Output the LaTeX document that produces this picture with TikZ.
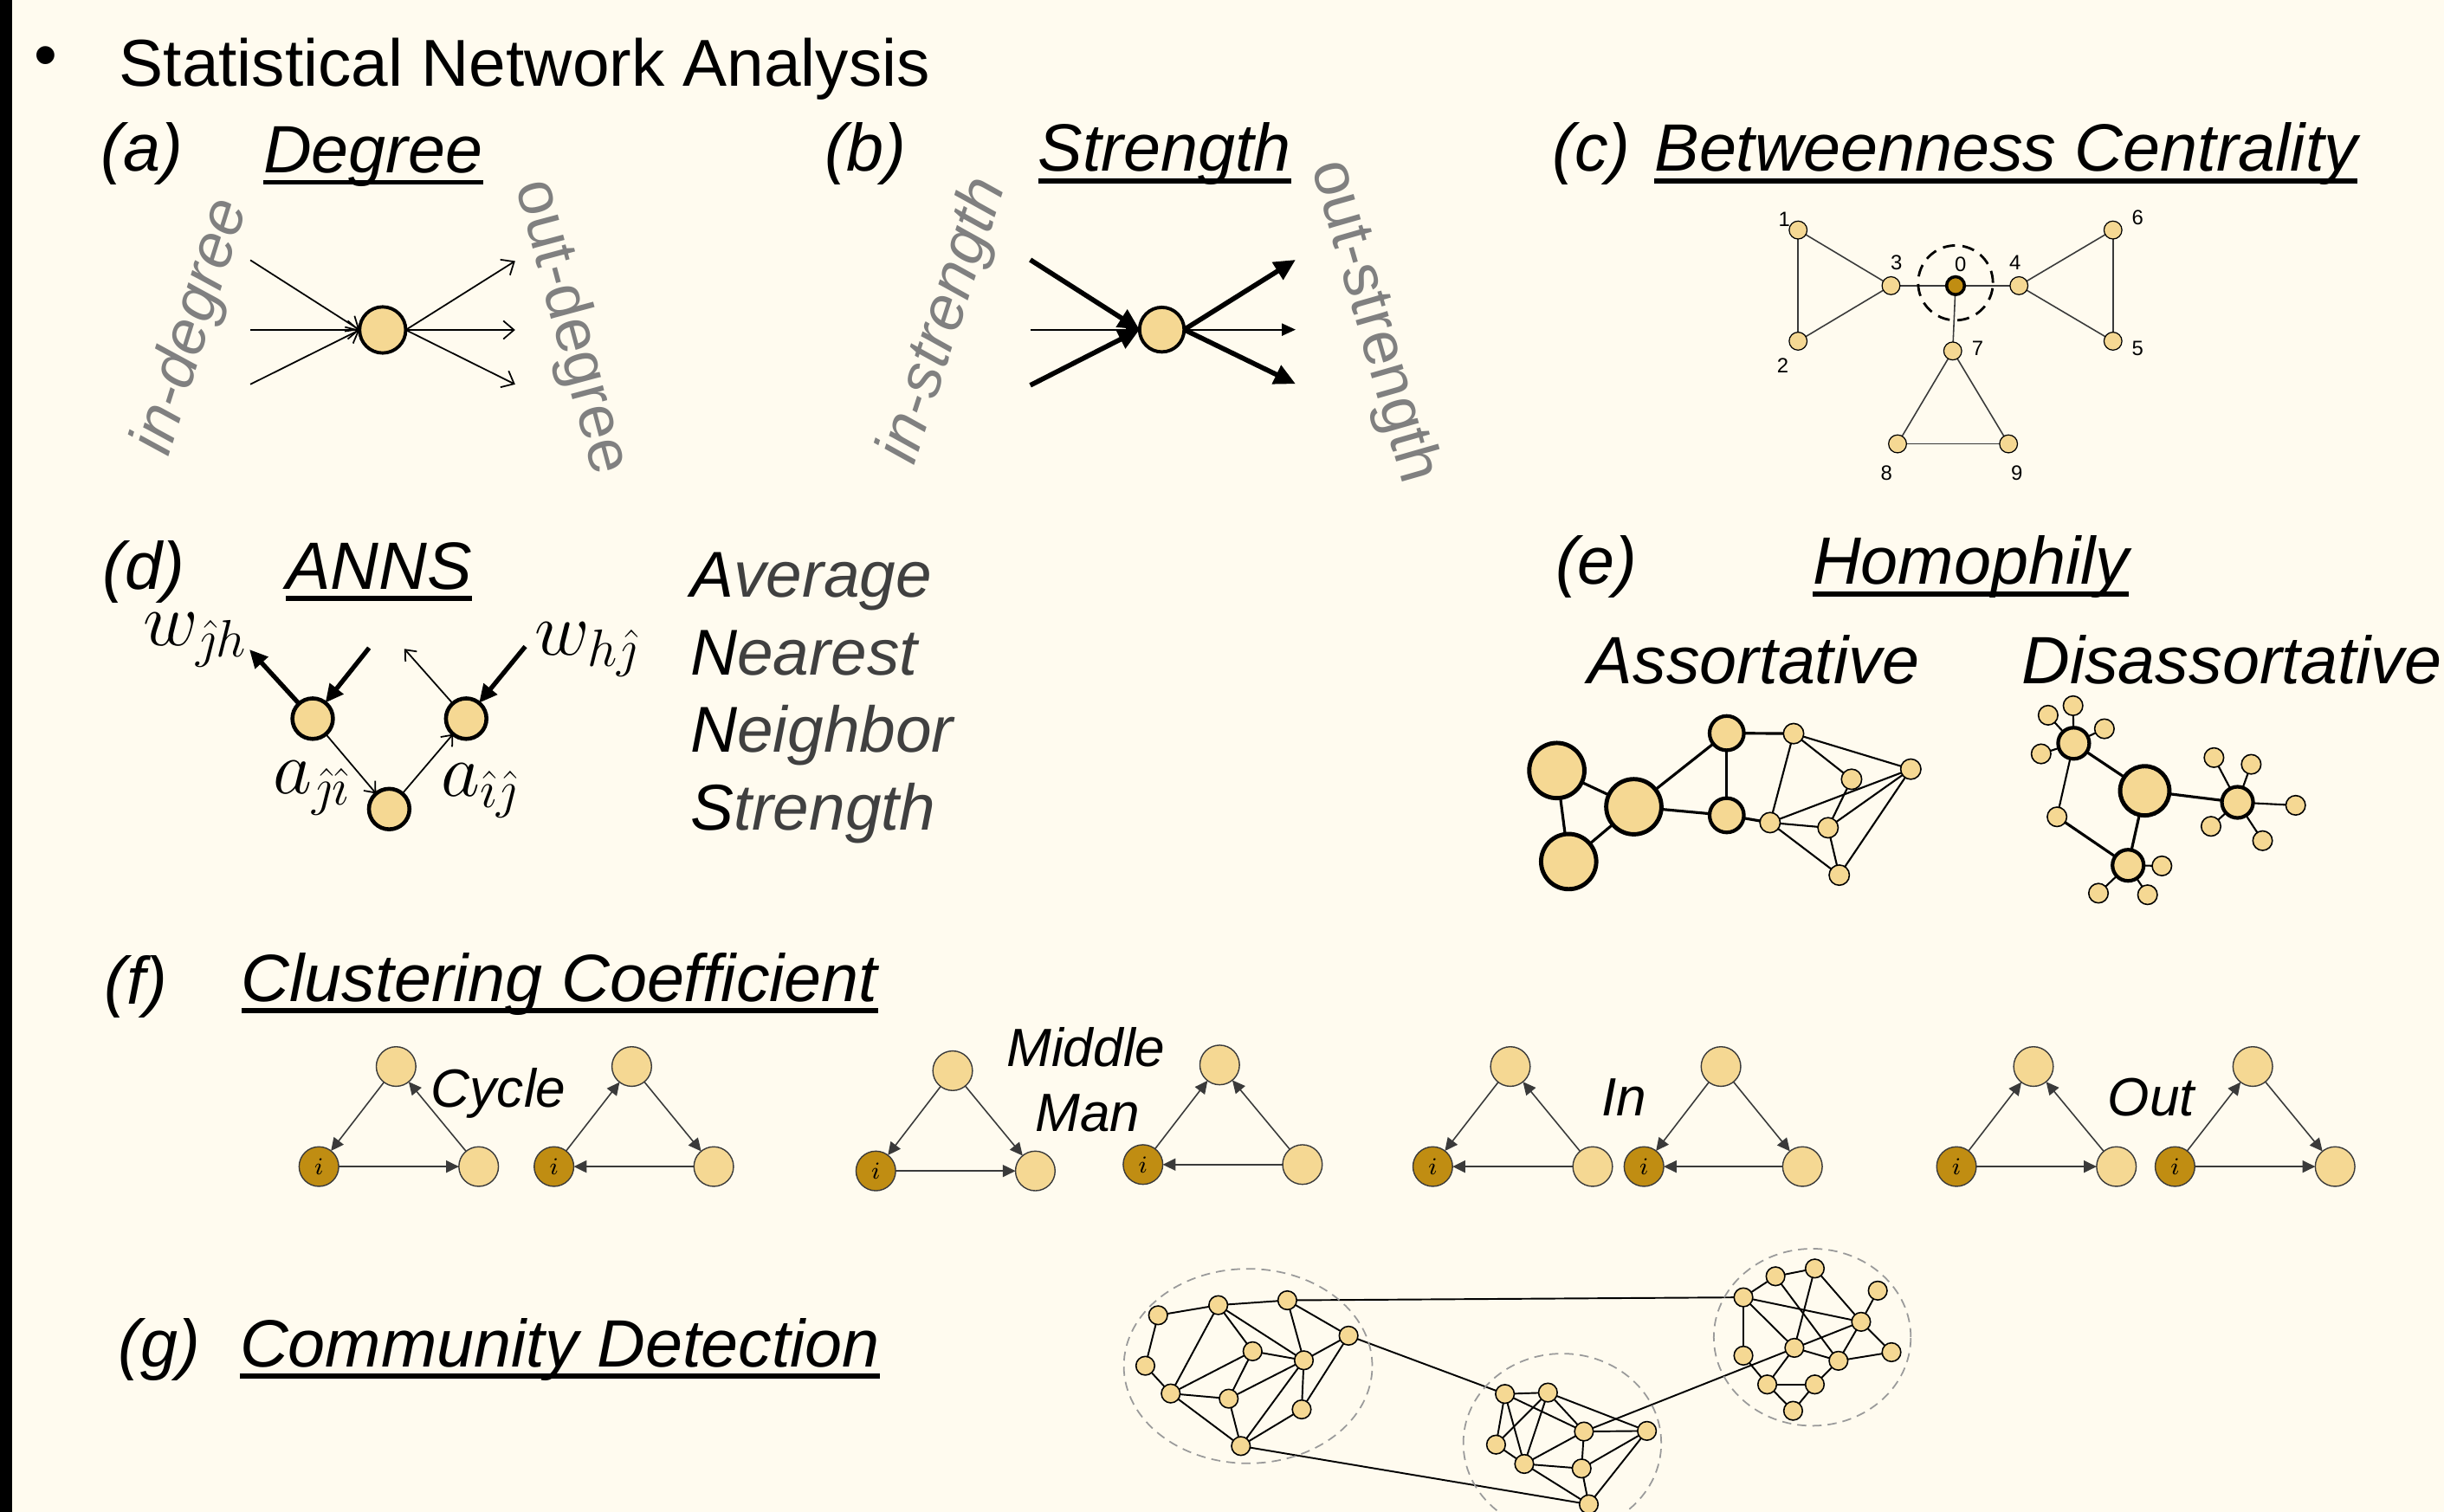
\documentclass[tikz,border=0pt]{standalone}
\usepackage{fontspec}
\setmainfont{Liberation Sans}
\usetikzlibrary{arrows.meta,calc,shapes.geometric}
\definecolor{bgcream}{HTML}{FFFBEF}
\definecolor{nodeY}{HTML}{F5D893}
\definecolor{nodeD}{HTML}{C08D12}
\definecolor{labgray}{HTML}{808080}
\definecolor{txtgray}{HTML}{404040}
\definecolor{edgegray}{HTML}{3A3A3A}
\definecolor{ringgray}{HTML}{9A9A9A}
\pgfdeclarelayer{back}
\pgfdeclarelayer{edges}
\pgfsetlayers{back,edges,main}
\tikzset{
  every node/.style={inner sep=0pt, outer sep=0pt},
  heading/.style={font=\fontsize{22}{26}\selectfont\itshape, anchor=base west},
  sublabel/.style={font=\fontsize{17.7}{21}\selectfont\itshape, anchor=base west},
  annsword/.style={font=\fontsize{21.3}{25}\selectfont\itshape, anchor=base west, text=txtgray},
  rotlabel/.style={font=\fontsize{20.5}{24}\selectfont, text=labgray},
  rotlabelit/.style={font=\fontsize{20.5}{24}\selectfont\itshape, text=labgray},
  mathlabel/.style={font=\fontsize{23}{27}\selectfont, anchor=base west},
  numlabel/.style={font=\fontsize{6.8}{8}\selectfont},
  nd/.style={circle, fill=nodeY, draw=black, line width=0.4pt, minimum size=#1*0.018cm},
  ndark/.style={nd=#1, fill=nodeD},
  rim/.style={line width=#1},
  uline/.style={line width=1.6pt},
  barbarrow/.style={line width=0.5pt, -{Straight Barb[length=3.5pt,width=6pt]}},
  heavyarrow/.style={line width=1.6pt, -{Triangle[length=7pt,width=6.5pt]}},
  lightarrow/.style={line width=0.5pt, -{Triangle[length=4.5pt,width=4pt]}},
  annsheavy/.style={line width=1.5pt, -{Triangle[length=6pt,width=5.5pt]}},
  annslight/.style={line width=0.5pt, -{Straight Barb[length=3pt,width=5pt]}},
  triedge/.style={draw=edgegray, line width=0.45pt, -{Triangle[length=4.2pt,width=4pt]}},
  plainedge/.style={draw=edgegray, line width=0.45pt},
  homedge/.style={line width=0.9pt},
  homedgethin/.style={line width=0.6pt},
  commedge/.style={line width=0.55pt},
  commring/.style={ellipse, draw=ringgray, dashed, dash pattern=on 3pt off 2pt, line width=0.5pt},
}
\newcommand\drawunderline[1]{\draw[uline] ($(#1.base west)+(0,6)$) -- ($(#1.base east)+(0,6)$);}
\begin{document}
\begin{tikzpicture}[x=0.018cm, y=-0.018cm]
\useasboundingbox (0,0) rectangle (1568,970);
\clip (0,0) rectangle (1568,970);
\begin{pgfonlayer}{back}
  \fill[bgcream] (0,0) rectangle (1568,970);
  \fill[black] (0,0) rectangle (8,970);
\end{pgfonlayer}

% ---------- title ----------
\node[font=\fontsize{21.8}{26}\selectfont] (bullet) at (29.2,40) {•};
\node[font=\fontsize{21.8}{26}\selectfont, anchor=base west] (title) at (76.5,55.5) {Statistical Network Analysis};

% ---------- headings ----------
\node[heading] (alab) at (65,110) {(a)};
\node[heading] (ahead) at (169,111) {Degree};
\drawunderline{ahead}
\node[heading] (blab) at (529,109.5) {(b)};
\node[heading] (bhead) at (666,110) {Strength};
\drawunderline{bhead}
\node[heading] (clab) at (996,109.5) {(c)};
\node[heading] (chead) at (1061.5,110) {Betweenness Centrality};
\drawunderline{chead}
\node[heading] (dlab) at (66,378) {(d)};
\node[heading] (dhead) at (183.5,378) {ANNS};
\drawunderline{dhead}
\node[heading] (elab) at (998,375) {(e)};
\node[heading] (ehead) at (1163,375) {Homophily};
\drawunderline{ehead}
\node[heading] (assort) at (1019,438.5) {Assortative};
\node[heading] (disassort) at (1297,438.5) {Disassortative};
\node[heading] (flab) at (67,644) {(f)};
\node[heading] (fhead) at (155,642.5) {Clustering Coefficient};
\drawunderline{fhead}
\node[heading] (glab) at (76,877) {(g)};
\node[heading] (ghead) at (154,877) {Community Detection};
\drawunderline{ghead}

% ---------- (a) degree ----------
\node[nd=29.6, rim=1.1pt] (an) at (245.5,211.7) {};
\coordinate (ai1) at (160.6,166.9);
\coordinate (ai2) at (160.6,211.7);
\coordinate (ai3) at (160.6,246.6);
\coordinate (ao1) at (330.5,167.5);
\coordinate (ao2) at (330.5,211.7);
\coordinate (ao3) at (330.5,246.6);
\begin{pgfonlayer}{edges}
  \foreach \s in {ai1,ai2,ai3} \draw[barbarrow] (\s) -- (an.west);
  \foreach \t in {ao1,ao2,ao3} \draw[barbarrow] (an.east) -- (\t);
\end{pgfonlayer}
\node[rotlabelit, rotate=72.5] (indeg) at (123.5,210) {in-degree};
\node[rotlabel, rotate=-75] (outdeg) at (366,210) {out-degree};

% ---------- (b) strength ----------
\node[nd=28.6, rim=1.1pt] (bn) at (745.4,211.5) {};
\coordinate (bi1) at (661,166.7);
\coordinate (bi2) at (661,211.5);
\coordinate (bi3) at (661,247.2);
\coordinate (bo1) at (831.2,166.7);
\coordinate (bo2) at (831.2,211.5);
\coordinate (bo3) at (831.2,246.3);
\begin{pgfonlayer}{edges}
  \draw[heavyarrow] (bi1) -- (bn.west);
  \draw[lightarrow] (bi2) -- (bn.west);
  \draw[heavyarrow] (bi3) -- (bn.west);
  \draw[heavyarrow] (bn.east) -- (bo1);
  \draw[lightarrow] (bn.east) -- (bo2);
  \draw[heavyarrow] (bn.east) -- (bo3);
\end{pgfonlayer}
\node[rotlabelit, rotate=72] (instr) at (606,206) {in-strength};
\node[rotlabel, rotate=-74] (outstr) at (880.8,206.5) {out-strength};

% ---------- (c) betweenness ----------
\node[circle, draw=black, dashed, dash pattern=on 4pt off 2.5pt, line width=0.8pt, minimum size=48*0.018cm] (bring) at (1254.6,181.5) {};
\foreach \n/\x/\y in {bc1/1153.6/147.6, bc2/1153.6/218.9, bc3/1213.2/183.3, bc4/1295.3/183.3,
                      bc5/1355.6/218.9, bc6/1355.6/147.6, bc7/1252.8/225.2, bc8/1217.4/284.8, bc9/1288.6/284.8}
  \node[nd=11.5, rim=0.35pt] (\n) at (\x,\y) {};
\node[ndark=11.5, rim=1pt] (bc0) at (1254.6,183.3) {};
\begin{pgfonlayer}{edges}
  \foreach \a/\b in {bc1/bc2, bc1/bc3, bc2/bc3, bc3/bc0, bc0/bc4, bc4/bc6, bc4/bc5, bc6/bc5, bc0/bc7, bc7/bc8, bc7/bc9, bc8/bc9}
    \draw[plainedge] (\a) -- (\b);
\end{pgfonlayer}
\foreach \n/\t/\x/\y in {lb1/1/1144.8/140.7, lb2/2/1143.7/234.8, lb3/3/1216.7/168.5, lb0/0/1257.8/169.4,
                         lb4/4/1292.8/168.5, lb6/6/1371.5/139.8, lb5/5/1371.5/223.7, lb7/7/1268.8/223.7,
                         lb8/8/1210.3/303.7, lb9/9/1293.9/303.7}
  \node[numlabel] (\n) at (\x,\y) {\t};

% ---------- (d) ANNS ----------
\node[nd=26, rim=1.3pt] (dL) at (200.6,461.1) {};
\node[nd=26, rim=1.3pt] (dR) at (299.1,461.1) {};
\node[nd=26, rim=1.3pt] (dB) at (249.7,519.1) {};
\coordinate (dwL) at (160,416.7);
\coordinate (dinL) at (236.8,415.7);
\coordinate (doR) at (259.4,416.3);
\coordinate (dinR) at (337,414.8);
\begin{pgfonlayer}{edges}
  \draw[annsheavy] (dL) -- (dwL);
  \draw[annsheavy] (dinL) -- (dL);
  \draw[annslight] (dR) -- (doR);
  \draw[annsheavy] (dinR) -- (dR);
  \draw[annslight] (dL) -- (dB);
  \draw[annslight] (dB) -- (dR);
\end{pgfonlayer}
\node[mathlabel] (wjh) at (92,414) {$w_{\hat{\jmath}h}$};
\node[mathlabel] (whj) at (343,420.4) {$w_{h\hat{\jmath}}$};
\node[mathlabel] (aji) at (175.5,509.3) {$a_{\hat{\jmath}\hat{\imath}}$};
\node[mathlabel] (aij) at (283,511) {$a_{\hat{\imath}\hat{\jmath}}$};
\node[annsword] (wavg) at (443,383.3) {\textcolor{black}{A}verage};
\node[annsword] (wnear) at (443,433.3) {\textcolor{black}{N}earest};
\node[annsword] (wneigh) at (443,482.4) {\textcolor{black}{N}eighbor};
\node[annsword] (wstr) at (443,532.4) {\textcolor{black}{S}trength};

% ---------- (e) homophily: assortative ----------
\foreach \n/\x/\y in {hA1/998.8/494.4, hA2/1048.2/517.6, hA3/1006.4/552.8}
  \node[nd=35.4, rim=1.4pt] (\n) at (\x,\y) {};
\foreach \n/\x/\y in {hM1/1107.8/470.4, hM2/1107.8/523.1}
  \node[nd=22, rim=1.2pt] (\n) at (\x,\y) {};
\foreach \n/\x/\y in {hS1/1150.7/470.7, hS2/1187.9/500, hS3/1225.9/493.5, hS4/1135.6/527.8, hS5/1172.8/531.1, hS6/1180/561.5}
  \node[nd=13, rim=0.45pt] (\n) at (\x,\y) {};
\begin{pgfonlayer}{edges}
  \foreach \a/\b in {hA1/hA2, hA1/hA3, hA3/hA2, hA2/hM1, hA2/hM2, hM1/hM2, hM1/hS1, hM2/hS4}
    \draw[homedge] (\a) -- (\b);
  \foreach \a/\b in {hS1/hS3, hS1/hS2, hS1/hS4, hS4/hS3, hS4/hS5, hS4/hS6, hS2/hS5, hS5/hS3, hS5/hS6, hS6/hS3}
    \draw[homedgethin] (\a) -- (\b);
\end{pgfonlayer}

% ---------- (e) homophily: disassortative ----------
\node[nd=31.6, rim=1.4pt] (hD2) at (1376,507.4) {};
\foreach \n/\x/\y in {hD1/1330.4/476.9, hD3/1435.5/514.8, hD4/1365.3/555.2}
  \node[nd=20, rim=1.2pt] (\n) at (\x,\y) {};
\foreach \n/\x/\y in {hL11/1314/458.9, hL12/1330/452.8, hL13/1350.1/467.6, hL14/1309.5/483.7, hL15/1319.7/524.1,
                      hL31/1420.4/486.1, hL32/1444.3/490.4, hL33/1472.8/516.7, hL34/1451.6/539.4, hL35/1418.5/530.2,
                      hL41/1387/555.6, hL42/1377.8/574.1, hL43/1346.3/573.1}
  \node[nd=12.5, rim=0.45pt] (\n) at (\x,\y) {};
\begin{pgfonlayer}{edges}
  \foreach \a/\b in {hD1/hD2, hD2/hD3, hD2/hD4, hL15/hD4}
    \draw[homedge] (\a) -- (\b);
  \foreach \a/\b in {hD1/hL11, hD1/hL12, hD1/hL13, hD1/hL14, hD1/hL15,
                     hD3/hL31, hD3/hL32, hD3/hL33, hD3/hL34, hD3/hL35,
                     hD4/hL41, hD4/hL42, hD4/hL43}
    \draw[homedgethin] (\a) -- (\b);
\end{pgfonlayer}

% ---------- (f) clustering coefficient triads ----------
\foreach \k/\tx/\ty/\ix/\iy/\rx/\ry in {
    1/254.1/684.3/204.6/748.5/307.1/748.5,
    2/405.3/684.3/355.4/748.5/457.9/748.5,
    3/611.2/687/561.9/751.3/664.2/751.3,
    4/782.5/683.3/733.3/747.2/835.6/747.2,
    5/969/684.3/919.2/748.5/1021.8/748.5,
    6/1104.1/684.3/1054.7/748.5/1156.4/748.5,
    7/1304.6/684.3/1255.2/748.5/1357.8/748.5,
    8/1445.3/684.3/1395.4/748.5/1498.1/748.5}
{
  \node[nd=25.4, draw=edgegray] (ft\k) at (\tx,\ty) {};
  \node[ndark=25.4, draw=edgegray, font=\fontsize{8.5}{9}\selectfont] (fi\k) at (\ix,\iy) {$i$};
  \node[nd=25.4, draw=edgegray] (fr\k) at (\rx,\ry) {};
}
\begin{pgfonlayer}{edges}
  \foreach \a/\b in {ft1/fi1, fi1/fr1, fr1/ft1,
                     fi2/ft2, ft2/fr2, fr2/fi2,
                     ft3/fi3, ft3/fr3, fi3/fr3,
                     fi4/ft4, fr4/ft4, fr4/fi4,
                     ft5/fi5, fr5/ft5, fr5/fi5,
                     ft6/fi6, ft6/fr6, fr6/fi6,
                     fi7/ft7, fr7/ft7, fi7/fr7,
                     fi8/ft8, ft8/fr8, fi8/fr8}
    \draw[triedge] (\a) -- (\b);
\end{pgfonlayer}
\node[sublabel] (cyc) at (276.7,710.2) {Cycle};
\node[sublabel] (mid) at (645.8,684.3) {Middle};
\node[sublabel] (man) at (664.2,725.9) {Man};
\node[sublabel] (inl) at (1027.4,715.7) {In};
\node[sublabel] (outl) at (1352.2,715.7) {Out};

% ---------- (g) community detection ----------
\node[commring, minimum width=159.4*0.018cm, minimum height=124.8*0.018cm] (ring1) at (800.7,876.5) {};
\node[commring, minimum width=127*0.018cm, minimum height=115*0.018cm] (ring2) at (1002.3,926) {};
\node[commring, minimum width=126.4*0.018cm, minimum height=113.6*0.018cm] (ring3) at (1162.7,858) {};
\foreach \n/\x/\y in {g1a/743/843.9, g1b/781.6/837.4, g1c/825.9/834.3, g1d/865.2/857, g1e/734.8/876.3,
                      g1f/803.6/867, g1g/836.5/872.8, g1h/751.1/894.1, g1i/788.3/897.4, g1j/835.1/904.3, g1k/796.1/927.8,
                      g2a/965.5/894.4, g2b/993.1/893.5, g2c/959.8/926.9, g2d/1016.2/918.5, g2e/1056.6/918.1,
                      g2f/977.9/939.3, g2g/1014.7/942.2, g2h/1019.3/965.2,
                      g3a/1118.5/832.4, g3b/1139.1/818.9, g3c/1164.3/813.9, g3d/1204.7/828.1, g3e/1194/848.1,
                      g3f/1118.5/869.8, g3g/1151.2/864.8, g3h/1179.5/873.1, g3i/1213.5/867.6,
                      g3j/1133.8/888.3, g3k/1164.3/888.3, g3l/1150.4/905.2}
  \node[nd=12, rim=0.45pt] (\n) at (\x,\y) {};
\begin{pgfonlayer}{edges}
  \foreach \a/\b in {g1a/g1b, g1a/g1e, g1e/g1h, g1b/g1c, g1b/g1h, g1b/g1f, g1b/g1g, g1c/g1g, g1c/g1d,
                     g1d/g1g, g1d/g1j, g1f/g1g, g1f/g1h, g1f/g1i, g1h/g1i, g1h/g1k, g1i/g1g, g1i/g1k,
                     g1g/g1k, g1g/g1j, g1j/g1k,
                     g1c/g3a, g1d/g2a, g1k/g2h, g2d/g3e,
                     g2a/g2b, g2a/g2c, g2a/g2f, g2a/g2d, g2b/g2c, g2b/g2f, g2b/g2d, g2b/g2e, g2d/g2e,
                     g2d/g2f, g2d/g2g, g2f/g2g, g2f/g2h, g2g/g2h, g2g/g2e, g2e/g2h, g2c/g2f,
                     g3a/g3b, g3b/g3c, g3a/g3f, g3a/g3e, g3a/g3g, g3b/g3h, g3c/g3g, g3c/g3e, g3d/g3e,
                     g3e/g3h, g3e/g3i, g3g/g3h, g3g/g3j, g3f/g3j, g3j/g3k, g3j/g3l, g3k/g3l, g3k/g3h, g3h/g3i}
    \draw[commedge] (\a) -- (\b);
\end{pgfonlayer}
\end{tikzpicture}
\end{document}
